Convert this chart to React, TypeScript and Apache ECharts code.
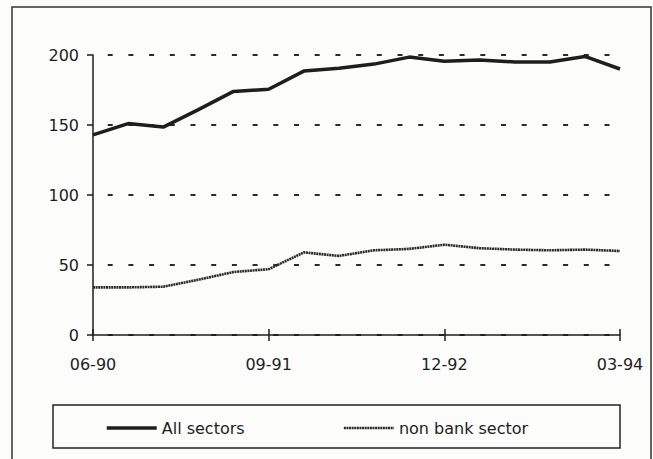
import React, { useEffect, useRef } from "react";
import * as echarts from "echarts";

const quarters = [
  "06-90", "09-90", "12-90", "03-91", "06-91", "09-91", "12-91", "03-92",
  "06-92", "09-92", "12-92", "03-93", "06-93", "09-93", "12-93", "03-94",
];
const allSectors = [143, 151, 148.5, 161, 174, 175.5, 188.5, 190.5, 193.5, 198.5, 195.5, 196.5, 195, 195, 199, 190];
const nonBankSector = [34, 34, 34.5, 39.5, 45, 47, 59, 56.5, 60.5, 61.5, 64.5, 62, 61, 60.5, 61, 60];
const seriesNames = ["All sectors", "non bank sector"];
const yTicks = [0, 50, 100, 150, 200];

const FONT = "'DejaVu Sans', 'Liberation Sans', Arial, sans-serif";
const INK = "#1e1e1e";
const INK2 = "#2a2a2a";

export default function App() {
  const ref = useRef<HTMLDivElement>(null);
  useEffect(() => {
    if (!ref.current) return;
    const chart = echarts.init(ref.current, undefined, { renderer: "svg" });
    chart.setOption({
      animation: false,
      backgroundColor: "#fcfcfb",
      textStyle: { fontFamily: FONT, color: INK },
      graphic: [
        {
          type: "rect",
          shape: { x: 12, y: 7, width: 639, height: 470 },
          style: { fill: "none", stroke: "#333", lineWidth: 1.5 },
          silent: true,
        },
        {
          type: "rect",
          shape: { x: 53, y: 405, width: 567, height: 43 },
          style: { fill: "none", stroke: "#222", lineWidth: 1.5 },
          silent: true,
        },
      ],
      grid: { left: 93, right: 33, top: 55, bottom: 124, containLabel: false },
      legend: {
        left: 105,
        top: 420,
        padding: 0,
        itemWidth: 50,
        itemHeight: 14,
        itemGap: 98,
        itemStyle: { opacity: 0 },
        textStyle: { fontFamily: FONT, fontSize: 16, color: INK },
        data: [
          { name: seriesNames[0], lineStyle: { width: 3.5, color: INK } },
          { name: seriesNames[1], lineStyle: { width: 2.5, color: INK2, type: [2, 0.6] } },
        ],
      },
      xAxis: [
        {
          type: "category",
          data: quarters,
          boundaryGap: false,
          axisLine: { lineStyle: { color: INK, width: 1.5 } },
          axisTick: { interval: 4, length: 6, lineStyle: { color: INK, width: 1.5 } },
          axisLabel: { interval: 4, margin: 21, fontSize: 16, color: INK, fontFamily: FONT },
          splitLine: { show: false },
        },
        {
          type: "category",
          data: quarters,
          boundaryGap: false,
          position: "bottom",
          axisLine: { show: false },
          axisTick: { inside: true, interval: 4, length: 6, lineStyle: { color: INK, width: 1.5 } },
          axisLabel: { show: false },
          splitLine: { show: false },
        },
      ],
      yAxis: {
        type: "value",
        min: yTicks[0],
        max: yTicks[yTicks.length - 1],
        interval: 50,
        axisLine: { show: true, lineStyle: { color: INK, width: 1.5 } },
        axisTick: { show: true, length: 6, lineStyle: { color: INK, width: 1.5 } },
        axisLabel: { margin: 14, fontSize: 16, color: INK, fontFamily: FONT },
        splitLine: {
          show: true,
          lineStyle: { color: INK2, width: 2, type: [5, 15.7], dashOffset: 5.7 },
        },
      },
      series: [
        {
          name: seriesNames[0],
          type: "line",
          data: allSectors,
          symbol: "none",
          lineStyle: { color: INK, width: 3.5 },
          itemStyle: { color: INK },
        },
        {
          name: seriesNames[1],
          type: "line",
          data: nonBankSector,
          symbol: "none",
          lineStyle: { color: INK2, width: 2.6, type: [2, 0.6] },
          itemStyle: { color: INK2 },
        },
      ],
    });
    return () => chart.dispose();
  }, []);
  return (
    <div
      ref={ref}
      style={{ position: "fixed", left: 0, top: 0, width: 653, height: 459 }}
    />
  );
}
